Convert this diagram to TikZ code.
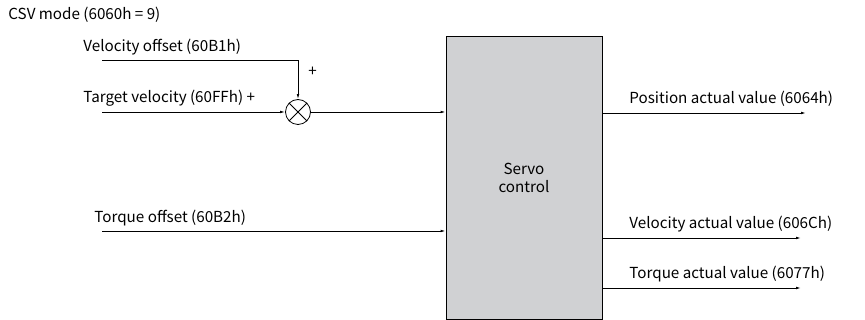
\documentclass[tikz,border=0pt]{standalone}
\usepackage{fontspec}
\setmainfont{Noto Sans CJK SC}
\usetikzlibrary{arrows.meta}
\begin{document}
\begin{tikzpicture}[x=1pt, y=-1pt, line width=0.8pt,
  lbl/.style={anchor=west, inner sep=0pt, font=\fontsize{15.2}{17}\selectfont},
  >={Latex[length=5pt,width=2.6pt]}]
  \useasboundingbox (0,0) rectangle (865,320);
  \node[lbl] (mode) at (8,15)    {CSV mode (6060h = 9)};
  \node[draw, fill={rgb,255:red,208;green,209;blue,211}, minimum width=156pt, minimum height=283pt,
        align=center, font=\fontsize{15.2}{18}\selectfont] (servo) at (524,177.5) {Servo\\control};
  \node[draw, circle, minimum size=25pt, inner sep=0pt] (sum) at (298,112) {};
  \draw (sum.north west) -- (sum.south east) (sum.north east) -- (sum.south west);
  \coordinate (vin)  at (102,60);
  \coordinate (tin)  at (102,112);
  \coordinate (qin)  at (102,231);
  \coordinate (pout) at (806,113);
  \coordinate (vout) at (801,238);
  \coordinate (qout) at (801,288);
  \node[lbl] (voff)  at (83,47)  {Velocity offset (60B1h)};
  \node[lbl] (plus)  at (308,72) {+};
  \node[lbl] (tvel)  at (83,98)  {Target velocity (60FFh) +};
  \node[lbl] (qoff)  at (94,218) {Torque offset (60B2h)};
  \node[lbl] (pact)  at (629,99) {Position actual value (6064h)};
  \node[lbl] (vact)  at (629,224) {Velocity actual value (606Ch)};
  \node[lbl] (qact)  at (629,274) {Torque actual value (6077h)};
  \draw[->] (vin) -| (sum.north);
  \draw[->] (tin) -- (sum.west);
  \draw[->] (sum.east) -- (servo.west |- sum);
  \draw[->] (qin) -- (servo.west |- qin);
  \draw[->] (servo.east |- pout) -- (pout);
  \draw[->] (servo.east |- vout) -- (vout);
  \draw[->] (servo.east |- qout) -- (qout);
\end{tikzpicture}
\end{document}
